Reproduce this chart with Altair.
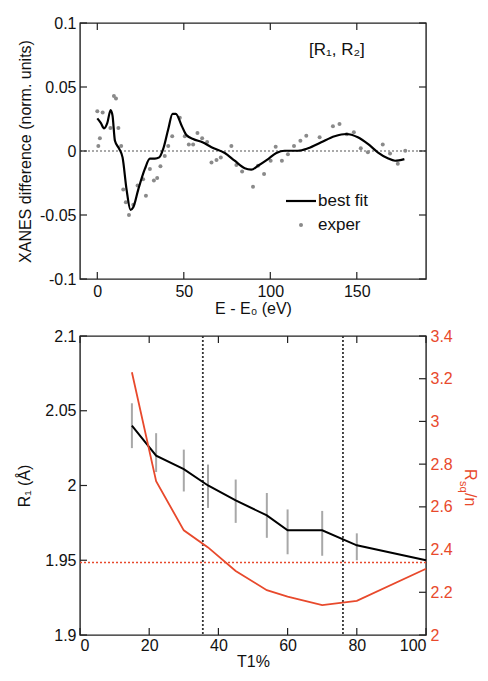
import altair as alt
import pandas as pd

# ---------------- top panel data ----------------
exp_E = [0.0, 0.6, 1.5, 3.1, 7.6, 9.6, 10.8, 12.2, 13.8, 15.0, 16.5, 18.3, 20.8, 23.3,
         26.5, 28.1, 30.4, 32.7, 34.6, 36.5, 39.0, 41.0, 43.3, 47.7, 50.6, 52.9, 55.4,
         57.9, 60.6, 63.5, 66.0, 68.9, 71.4, 77.5, 80.4, 83.7, 90.0, 92.9, 96.4, 100.2,
         103.1, 106.7, 110.2, 113.7, 117.4, 120.8, 128.5, 136.2, 140.0, 144.2, 148.3,
         152.3, 156.4, 165.0, 169.2, 173.7, 178.0]
exp_D = [0.031, 0.004, 0.010, 0.030, 0.018, 0.043, 0.041, 0.018, 0.004, -0.030, -0.040,
         -0.050, -0.042, -0.027, -0.022, -0.035, -0.014, -0.023, -0.021, -0.012, -0.004,
         0.004, 0.0115, 0.026, 0.0115, 0.005, 0.005, 0.014, 0.010, 0.007, -0.009, -0.007,
         -0.005, 0.004, -0.011, -0.016, -0.028, -0.0115, -0.018, -0.0076, 0.0034, -0.0076,
         -0.0025, 0.004, 0.008, 0.012, 0.0107, 0.0193, 0.021, 0.013, 0.0147, 0.0021,
         -0.001, 0.005, -0.002, -0.010, 0.0002]

fit_E = [0.0, 2.0, 3.9, 5.8, 7.7, 8.8, 10.2, 12.7, 14.6, 16.9, 19.2, 20.8, 23.7, 27.5,
         30.4, 33.3, 35.8, 38.1, 41.0, 43.5, 45.4, 48.7, 51.5, 55.4, 60.8, 66.0, 73.7,
         79.4, 85.2, 89.0, 92.9, 98.7, 103.5, 108.3, 116.0, 121.8, 129.4, 137.2, 143.9,
         150.6, 156.4, 162.1, 167.9, 172.1, 177.5]
fit_D = [0.0255, 0.022, 0.0177, 0.022, 0.032, 0.0276, 0.008, 0.0016, -0.005, -0.030,
         -0.046, -0.044, -0.030, -0.014, -0.006, -0.006, -0.005, 0.0016, 0.017, 0.029,
         0.029, 0.020, 0.0125, 0.0094, 0.0068, 0.003, -0.0016, -0.0076, -0.0135, -0.0146,
         -0.0115, -0.0063, -0.0016, 0.0002, 0.0002, 0.0021, 0.0068, 0.0115, 0.0133,
         0.0107, 0.0055, -0.001, -0.0057, -0.0076, -0.0063]

top_xticks = [0, 50, 100, 150]
top_yticks = [-0.1, -0.05, 0, 0.05, 0.1]
top_zero = [0]
legend_labels = ["best fit", "exper"]
panel_label = ["[R₁, R₂]"]

# ---------------- bottom panel data ----------------
T1 = [15, 22, 30, 37, 45, 54, 60, 70, 80, 100]
R1 = [2.04, 2.02, 2.011, 2.0, 1.99, 1.98, 1.97, 1.97, 1.96, 1.95]
err_T = [15, 22, 30, 37, 45, 54, 60, 70, 80]
err_lo = [2.025, 2.009, 1.996, 1.985, 1.975, 1.965, 1.954, 1.953, 1.950]
err_hi = [2.055, 2.035, 2.024, 2.014, 2.004, 1.995, 1.984, 1.983, 1.968]
Rsq_T = [15, 22, 30, 37, 45, 54, 60, 70, 80, 100]
Rsq = [3.23, 2.72, 2.49, 2.41, 2.30, 2.21, 2.18, 2.14, 2.16, 2.31]
vlines_T = [35.5, 76]
hline_R1 = [1.9485]
bot_xticks = [0, 20, 40, 60, 80, 100]
bot_lticks = [1.9, 1.95, 2.0, 2.05, 2.1]
bot_rticks = [2.0, 2.2, 2.4, 2.6, 2.8, 3.0, 3.2, 3.4]

RED = "#e8492c"
GRAY_PT = "#8a8a8a"
FONT = "Liberation Sans"
TICK = 7
FS = 16

W1, H1 = 346, 256
W2, H2 = 346, 299

signed = "datum.value < 0 ? '-' + format(-datum.value, '~g') : format(datum.value, '~g')"

# ---------------- top panel ----------------
xs1 = alt.Scale(domain=[-10, 190], nice=False, zero=False)
ys1 = alt.Scale(domain=[-0.1, 0.1], nice=False, zero=False)
xax1 = alt.Axis(values=top_xticks, title="E - E₀ (eV)", labelExpr=signed)
yax1 = alt.Axis(values=top_yticks, title="XANES difference (norm. units)", labelExpr=signed)


def X1(f):
    return alt.X(f, type="quantitative", scale=xs1, axis=xax1)


def Y1(f):
    return alt.Y(f, type="quantitative", scale=ys1, axis=yax1)


exp_df = pd.DataFrame({"E": exp_E, "D": exp_D})
fit_df = pd.DataFrame({"E": fit_E, "D": fit_D})
xt1 = pd.DataFrame({"E": top_xticks})
yt1 = pd.DataFrame({"D": top_yticks})

zero_line = alt.Chart(pd.DataFrame({"D": top_zero})).mark_rule(
    color="#555", strokeWidth=1.2, strokeDash=[2, 2]).encode(y=Y1("D"))
pts = alt.Chart(exp_df).mark_circle(size=16, color=GRAY_PT, opacity=1).encode(x=X1("E"), y=Y1("D"))
fit = alt.Chart(fit_df).mark_line(color="black", strokeWidth=2.2, interpolate="monotone").encode(
    x=X1("E"), y=Y1("D"))

t_bot = alt.Chart(xt1).mark_rule(color="#222", strokeWidth=1.2).encode(
    x=X1("E"), y=alt.value(H1), y2=alt.value(H1 - TICK))
t_top = alt.Chart(xt1).mark_rule(color="#222", strokeWidth=1.2).encode(
    x=X1("E"), y=alt.value(0), y2=alt.value(TICK))
t_left = alt.Chart(yt1).mark_rule(color="#222", strokeWidth=1.2).encode(
    y=Y1("D"), x=alt.value(0), x2=alt.value(TICK))
t_right = alt.Chart(yt1).mark_rule(color="#222", strokeWidth=1.2).encode(
    y=Y1("D"), x=alt.value(W1 - TICK), x2=alt.value(W1))

leg_df = pd.DataFrame({"t": legend_labels})
leg_line = alt.Chart(leg_df.iloc[:1]).mark_rule(color="black", strokeWidth=2.2).encode(
    x=alt.value(206), x2=alt.value(236), y=alt.value(178))
leg_pt = alt.Chart(leg_df.iloc[1:]).mark_circle(size=16, color=GRAY_PT, opacity=1).encode(
    x=alt.value(221), y=alt.value(202))
leg_txt1 = alt.Chart(leg_df.iloc[:1]).mark_text(
    align="left", baseline="middle", fontSize=17, font=FONT, color="#111").encode(
    x=alt.value(238), y=alt.value(178), text="t:N")
leg_txt2 = alt.Chart(leg_df.iloc[1:]).mark_text(
    align="left", baseline="middle", fontSize=17, font=FONT, color="#111").encode(
    x=alt.value(238), y=alt.value(202), text="t:N")
lab = alt.Chart(pd.DataFrame({"t": panel_label})).mark_text(
    align="left", baseline="middle", fontSize=17, font=FONT, color="#111").encode(
    x=alt.value(229), y=alt.value(27), text="t:N")

top = alt.layer(zero_line, pts, fit, t_bot, t_top, t_left, t_right,
                leg_line, leg_pt, leg_txt1, leg_txt2, lab).properties(width=W1, height=H1)

# ---------------- bottom panel ----------------
xs2 = alt.Scale(domain=[0, 100], nice=False, zero=False)
yl = alt.Scale(domain=[1.9, 2.1], nice=False, zero=False)
yr = alt.Scale(domain=[2.0, 3.4], nice=False, zero=False)
xax2 = alt.Axis(values=bot_xticks, title="T1%", format="d", labelPadding=2, titlePadding=0)


def X2(f):
    return alt.X(f, type="quantitative", scale=xs2, axis=xax2)


r1_df = pd.DataFrame({"T": T1, "R": R1})
err_df = pd.DataFrame({"T": err_T, "lo": err_lo, "hi": err_hi})
rsq_df = pd.DataFrame({"T": Rsq_T, "S": Rsq})
v_df = pd.DataFrame({"T": vlines_T})
h_df = pd.DataFrame({"R": hline_R1})
xt2 = pd.DataFrame({"T": bot_xticks})
lt2 = pd.DataFrame({"R": bot_lticks})
rt2 = pd.DataFrame({"S": bot_rticks})

errs = alt.Chart(err_df).mark_rule(color="#a8a8a8", strokeWidth=2).encode(
    x=X2("T"), y=alt.Y("lo:Q", scale=yl, axis=None), y2="hi:Q")
vl = alt.Chart(v_df).mark_rule(color="#333", strokeWidth=1.8, strokeDash=[2, 2]).encode(x=X2("T"))
hl = alt.Chart(h_df).mark_rule(color=RED, strokeWidth=1.3, strokeDash=[2, 2]).encode(
    y=alt.Y("R:Q", scale=yl, axis=None))
blk = alt.Chart(r1_df).mark_line(color="black", strokeWidth=2).encode(
    x=X2("T"),
    y=alt.Y("R:Q", scale=yl, axis=alt.Axis(values=bot_lticks, title="R₁ (Å)", labelExpr=signed,
                                            titlePadding=12)))
red = alt.Chart(rsq_df).mark_line(color=RED, strokeWidth=1.8).encode(
    x=X2("T"),
    y=alt.Y("S:Q", scale=yr, axis=alt.Axis(orient="right", values=bot_rticks, title=None,
                                             labelColor=RED, labelExpr=signed)))
b_bot = alt.Chart(xt2).mark_rule(color="#222", strokeWidth=1.2).encode(
    x=X2("T"), y=alt.value(H2), y2=alt.value(H2 - TICK))
b_top = alt.Chart(xt2).mark_rule(color="#222", strokeWidth=1.2).encode(
    x=X2("T"), y=alt.value(0), y2=alt.value(TICK))
b_left = alt.Chart(lt2).mark_rule(color="#222", strokeWidth=1.2).encode(
    y=alt.Y("R:Q", scale=yl, axis=None), x=alt.value(0), x2=alt.value(TICK))
b_right = alt.Chart(rt2).mark_rule(color="#222", strokeWidth=1.2).encode(
    y=alt.Y("S:Q", scale=yr, axis=None), x=alt.value(W2 - TICK), x2=alt.value(W2))

rt_df = pd.DataFrame({"t": ["R", "sq", "/n"]})
rt1 = alt.Chart(rt_df.iloc[0:1]).mark_text(align="left", baseline="middle", angle=90, fontSize=FS,
                                           font=FONT, color=RED).encode(
    x=alt.value(W2 + 44), y=alt.value(133), text="t:N")
rt2b = alt.Chart(rt_df.iloc[1:2]).mark_text(align="left", baseline="middle", angle=90, fontSize=11,
                                            font=FONT, color=RED).encode(
    x=alt.value(W2 + 37), y=alt.value(145), text="t:N")
rt3 = alt.Chart(rt_df.iloc[2:3]).mark_text(align="left", baseline="middle", angle=90, fontSize=FS,
                                           font=FONT, color=RED).encode(
    x=alt.value(W2 + 44), y=alt.value(157), text="t:N")

bottom = alt.layer(errs, vl, hl, blk, red, b_bot, b_top, b_left, b_right, rt1, rt2b, rt3).resolve_scale(
    y="independent").properties(width=W2, height=H2)

chart = alt.vconcat(top, bottom, spacing=10).configure(
    font=FONT,
    padding={"left": 8, "top": 6, "right": 0, "bottom": 0},
).configure_view(stroke="#222", strokeWidth=1.4).configure_axis(
    grid=False, ticks=False, domain=False,
    labelFont=FONT, labelFontSize=FS, labelColor="#111", labelPadding=4,
    titleFont=FONT, titleFontSize=FS, titleFontWeight="normal", titleColor="#111", titlePadding=6,
).configure_axisX(titlePadding=1)

chart.save("out.html", embed_options={"renderer": "svg", "actions": False})
